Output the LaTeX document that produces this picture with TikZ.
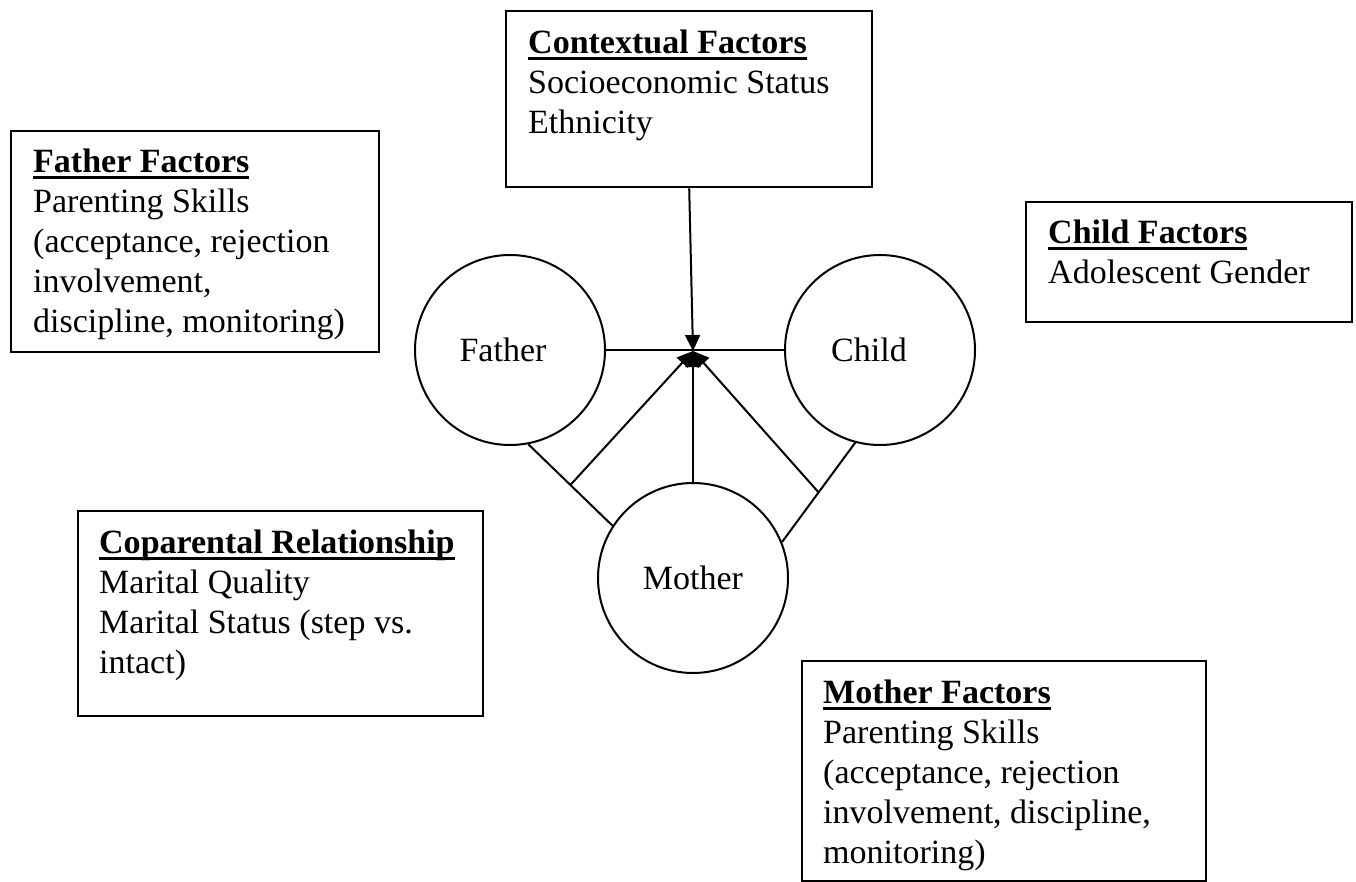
\documentclass[tikz,border=0pt]{standalone}
\usepackage{fontspec}
\setmainfont{Liberation Serif}
\usetikzlibrary{arrows.meta,calc}
\newcommand\ulhead[1]{\setbox0=\hbox{\bfseries #1}\rlap{\rule[-6.5pt]{\wd0}{3pt}}\box0}
\newcommand\boxlines[1]{\vtop{\halign{##\hfil\cr#1\crcr}}}
\tikzset{
 frame/.style={draw, line width=2.4pt, inner sep=0pt, anchor=north west},
 txt/.style={anchor=base west, inner sep=0pt, font=\fontsize{34}{40}\selectfont},
 person/.style={circle, draw, line width=2pt, minimum size=190pt, inner sep=0pt, font=\fontsize{34}{40}\selectfont},
 link/.style={line width=2pt},
 arr/.style={line width=2pt, -{Triangle[length=16pt,width=15pt]}},
}
\begin{document}
\begin{tikzpicture}[x=1pt,y=1pt]
\useasboundingbox (0,0) rectangle (1356,-882);
% boxes
\node[frame, minimum width=366pt, minimum height=176pt] (ctxbox) at (505,-10) {};
\node[frame, minimum width=368pt, minimum height=221pt] (fatbox) at (10,-130) {};
\node[frame, minimum width=326pt, minimum height=120pt] (chibox) at (1025,-201) {};
\node[frame, minimum width=405pt, minimum height=205pt] (copbox) at (77,-510) {};
\node[frame, minimum width=404pt, minimum height=220pt] (motbox) at (801,-660) {};
% texts
\node[txt] (ctxtxt) at (528,-54) {\boxlines{\ulhead{Contextual Factors}\cr Socioeconomic Status\cr Ethnicity}};
\node[txt] (fattxt) at (33,-173) {\boxlines{\ulhead{Father Factors}\cr Parenting Skills\cr (acceptance, rejection\cr involvement,\cr discipline, monitoring)}};
\node[txt] (chitxt) at (1048,-244) {\boxlines{\ulhead{Child Factors}\cr Adolescent Gender}};
\node[txt] (coptxt) at (99,-553) {\boxlines{\ulhead{Coparental Relationship}\cr Marital Quality\cr Marital Status (step vs.\cr intact)}};
\node[txt] (mottxt) at (823,-703) {\boxlines{\ulhead{Mother Factors}\cr Parenting Skills\cr (acceptance, rejection\cr involvement, discipline,\cr monitoring)}};
% persons
\node[person] (father) at (510,-350) {\makebox[0pt]{\hspace*{-14pt}Father}};
\node[person] (child) at (880,-350) {\makebox[0pt]{\hspace*{-22pt}Child}};
\node[person] (mother) at (693,-578) {Mother};
\coordinate (hub) at (693,-351);
% links
\draw[link] (father) -- (child);
\draw[link] (father.-79) -- (mother.147);
\draw[link] (child.-105) -- (mother.22);
\coordinate (fmmid) at ($(father.-79)!0.5!(mother.147)$);
\coordinate (cmmid) at ($(child.-105)!0.5!(mother.22)$);
% arrows
\draw[arr] (ctxbox.south) -- (hub);
\draw[arr] (mother.north) -- (hub);
\draw[arr] (fmmid) -- (hub);
\draw[arr] (cmmid) -- (hub);
\end{tikzpicture}
\end{document}
